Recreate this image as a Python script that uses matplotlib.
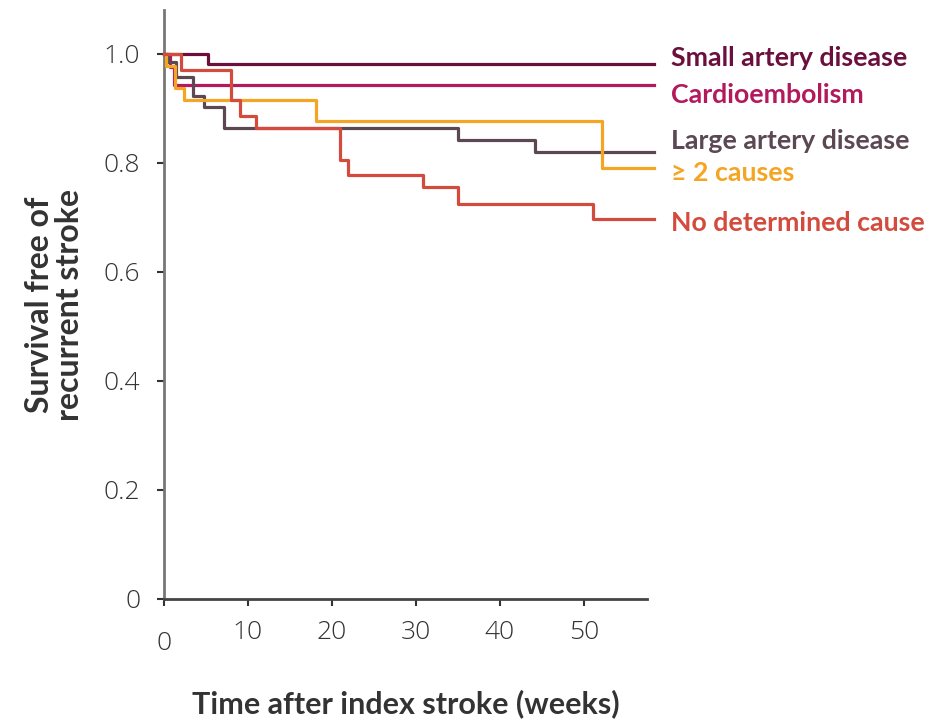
import matplotlib
matplotlib.use("Agg")
import matplotlib.pyplot as plt

# Kaplan-Meier steps (weeks, survival)
small_t = [0, 5.3, 58.3]
small_s = [1.0, 0.982, 0.982]

cardio_t = [0, 0.7, 1.2, 58.3]
cardio_s = [1.0, 0.975, 0.943, 0.943]

large_t = [0, 0.5, 1.4, 3.4, 4.8, 7.1, 35.0, 44.2, 58.3]
large_s = [1.0, 0.985, 0.958, 0.923, 0.902, 0.864, 0.842, 0.819, 0.819]

multi_t = [0, 0.3, 1.3, 2.4, 18.1, 52.2, 58.3]
multi_s = [1.0, 0.978, 0.938, 0.915, 0.877, 0.791, 0.791]

nocause_t = [0, 2.0, 8.0, 9.05, 11.0, 20.9, 21.9, 30.8, 35.0, 51.1, 58.3]
nocause_s = [1.0, 0.970, 0.915, 0.886, 0.864, 0.805, 0.778, 0.755, 0.724, 0.697, 0.697]

series = [
    ("Small artery disease", small_t, small_s, "#6b0f3d", 0.993),
    ("Cardioembolism", cardio_t, cardio_s, "#b3195d", 0.925),
    ("Large artery disease", large_t, large_s, "#5c4853", 0.840),
    ("\u2265 2 causes", multi_t, multi_s, "#f5a524", 0.782),
    ("No determined cause", nocause_t, nocause_s, "#d24b3d", 0.690),
]

xticks = [0, 10, 20, 30, 40, 50]
yticks = [0, 0.2, 0.4, 0.6, 0.8, 1.0]
ytick_labels = ["0", "0.2", "0.4", "0.6", "0.8", "1.0"]

plt.rcParams['font.family'] = ['Open Sans', 'DejaVu Sans']
label_font = ['Lato', 'DejaVu Sans']

fig = plt.figure(figsize=(9.28, 7.22), dpi=100, facecolor="white")
ax = fig.add_axes([0.1767, 0.1704, 0.5205, 0.8156])

for name, t, s, color, label_y in series:
    ax.step(t, s, where="post", color=color, lw=2.3, clip_on=False, zorder=3)
    ax.text(60.3, label_y, name, color=color, fontsize=19.3, fontweight="bold",
            family=label_font, va="center", ha="left", clip_on=False)

ax.set_xlim(0, 57.5)
ax.set_ylim(0, 1.08)

ax.set_xticks(xticks)
ax.set_xticklabels([""] + [str(v) for v in xticks[1:]])
ax.set_yticks(yticks)
ax.set_yticklabels(ytick_labels)

ax.tick_params(axis="both", direction="out", length=5, width=1.5, color="#333333",
               labelsize=19, labelcolor="#333333")
ax.tick_params(axis="x", pad=10)
ax.tick_params(axis="y", pad=12)
for lab in ax.get_xticklabels() + ax.get_yticklabels():
    lab.set_fontweight(300)

# the x "0" sits a little lower than the other tick labels
ax.annotate("0", xy=(0, 0), xycoords=("data", "axes fraction"), xytext=(0, -32),
            textcoords="offset points", ha="center", va="center",
            fontsize=19, fontweight=300, color="#333333")

ax.spines["top"].set_visible(False)
ax.spines["right"].set_visible(False)
ax.spines["left"].set_color("#777777")
ax.spines["left"].set_linewidth(2)
ax.spines["bottom"].set_color("#444444")
ax.spines["bottom"].set_linewidth(2)

ax.set_ylabel("Survival free of\nrecurrent stroke", fontsize=23, fontweight="bold",
              family=label_font, color="#333333", labelpad=14, linespacing=1.05)
ax.set_xlabel("Time after index stroke (weeks)", fontsize=22, fontweight="bold",
              family=label_font, color="#333333", labelpad=32)

fig.savefig("out.png", dpi=100)
